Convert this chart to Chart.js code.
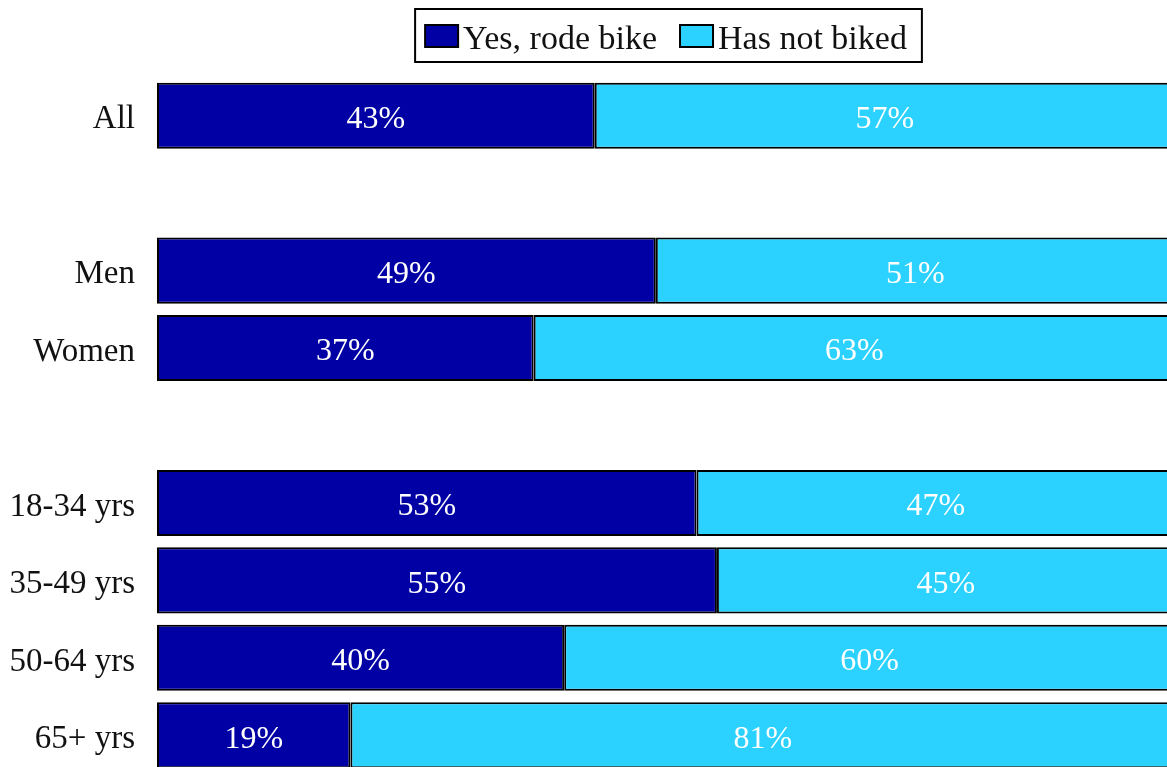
<!DOCTYPE html>
<html>
<head>
<meta charset="utf-8">
<script src="https://cdn.jsdelivr.net/npm/chart.js@4"></script>
<style>
  html, body { margin: 0; padding: 0; background: #fff; overflow: hidden; }
  #chart { display: block; }
</style>
</head>
<body>
<canvas id="chart" width="1180" height="780" style="width:1180px;height:780px"></canvas>
<script>
// Datos
const categories = ['All', '', 'Men', 'Women', '', '18-34 yrs', '35-49 yrs', '50-64 yrs', '65+ yrs'];
const rodeBike = [43, null, 49, 37, null, 53, 55, 40, 19];
const notBiked = [57, null, 51, 63, null, 47, 45, 60, 81];
const seriesNames = ['Yes, rode bike', 'Has not biked'];

const serif = '"Liberation Serif", "DejaVu Serif", serif';

// Etiquetas de valor dentro de las barras
const valueLabels = {
  id: 'valueLabels',
  afterDatasetsDraw(chart) {
    const ctx = chart.ctx;
    ctx.save();
    ctx.fillStyle = '#ffffff';
    ctx.font = '32px ' + serif;
    ctx.textAlign = 'center';
    ctx.textBaseline = 'middle';
    chart.data.datasets.forEach((ds, i) => {
      chart.getDatasetMeta(i).data.forEach((bar, j) => {
        const v = ds.data[j];
        if (v == null) return;
        const cx = (bar.x + bar.base) / 2;
        ctx.fillText(v + '%', cx, bar.y + 4);
      });
    });
    ctx.restore();
  }
};

// Leyenda con borde (dibujada a mano para controlar el espaciado)
const boxedLegend = {
  id: 'boxedLegend',
  afterDraw(chart) {
    const ctx = chart.ctx;
    const area = chart.chartArea;
    ctx.save();
    ctx.font = '34px ' + serif;
    const sw = 33, sh = 22, gap = 5, itemGap = 23;
    const items = chart.data.datasets.map(ds => ({
      text: ds.label,
      color: ds.backgroundColor,
      w: sw + gap + ctx.measureText(ds.label).width
    }));
    const total = items.reduce((a, it) => a + it.w, 0) + itemGap * (items.length - 1);
    let x = (area.left + area.right) / 2 - total / 2;
    const boxLeft = x - 10, boxRight = x + total + 15;

    ctx.strokeStyle = '#000';
    ctx.lineWidth = 2;
    ctx.strokeRect(boxLeft, 9, boxRight - boxLeft, 53);

    items.forEach(it => {
      ctx.fillStyle = it.color;
      ctx.fillRect(x, 25, sw, sh);
      ctx.lineWidth = 2;
      ctx.strokeRect(x, 25, sw, sh);
      ctx.fillStyle = '#111';
      ctx.textBaseline = 'alphabetic';
      ctx.textAlign = 'left';
      ctx.fillText(it.text, x + sw + gap, 49);
      x += it.w + itemGap;
    });
    ctx.restore();
  }
};

new Chart(document.getElementById('chart'), {
  type: 'bar',
  data: {
    labels: categories,
    datasets: [
      {
        label: seriesNames[0],
        data: rodeBike,
        backgroundColor: '#0000a4',
        borderColor: '#000000',
        borderWidth: 2,
        borderSkipped: false
      },
      {
        label: seriesNames[1],
        data: notBiked,
        backgroundColor: '#2bd2ff',
        borderColor: '#000000',
        borderWidth: 2,
        borderSkipped: false
      }
    ]
  },
  options: {
    indexAxis: 'y',
    responsive: false,
    animation: false,
    devicePixelRatio: 1,
    layout: { padding: { left: 0, right: 5, top: 77, bottom: 6 } },
    datasets: {
      bar: { categoryPercentage: 1, barPercentage: 0.853 }
    },
    scales: {
      x: {
        stacked: true,
        min: 0,
        max: 100,
        display: false
      },
      y: {
        stacked: true,
        grid: { display: false, drawTicks: false },
        border: { display: false },
        ticks: {
          color: '#111',
          padding: 22,
          labelOffset: 4,
          font: { family: serif, size: 33 }
        },
        afterFit(scale) {
          scale.width = 157;
          scale.paddingTop = 0;
          scale.paddingBottom = 0;
        }
      }
    },
    plugins: {
      tooltip: { enabled: false },
      legend: { display: false }
    }
  },
  plugins: [valueLabels, boxedLegend]
});
</script>
</body>
</html>
